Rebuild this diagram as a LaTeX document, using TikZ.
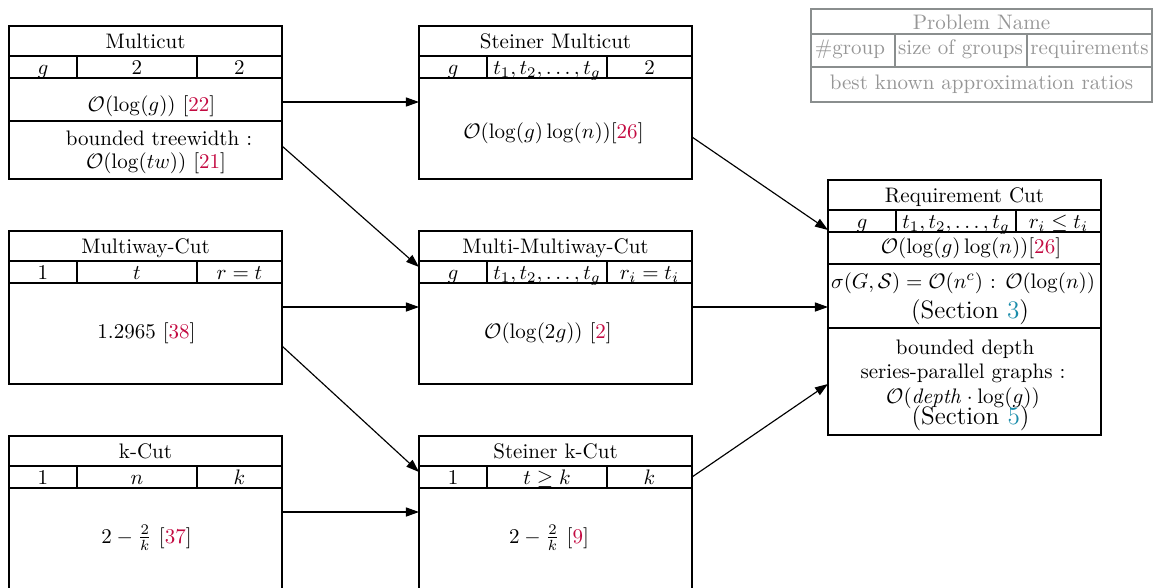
\documentclass[tikz,border=0pt]{standalone}
\usetikzlibrary{arrows.meta,calc}
\definecolor{citered}{RGB}{195,10,65}
\definecolor{secblue}{RGB}{25,140,170}
\definecolor{legline}{RGB}{138,142,142}
\definecolor{legtext}{RGB}{150,150,150}
\newcommand\cit[1]{[\textcolor{citered}{#1}]}
\newcommand\sref[1]{\textcolor{secblue}{#1}}
% #1 name, #2 x, #3 y, #4 height, #5 title, #6 #7 #8 small row
\newcommand\probbox[8]{%
  \node[box, minimum height=#4*0.476pt] (#1) at (#2,#3) {};
  \draw[thickline] (#2,#3+30) -- (#2+273,#3+30);
  \draw[thickline] (#2,#3+52) -- (#2+273,#3+52);
  \draw[thickline] (#2+68,#3+30) -- (#2+68,#3+52);
  \draw[thickline] (#2+188,#3+30) -- (#2+188,#3+52);
  \node[txt] (#1-t) at (#2+136.5,#3+22) {#5};
  \node[txt] (#1-a) at (#2+34,#3+48) {#6};
  \node[txt] (#1-b) at (#2+128,#3+48) {#7};
  \node[txt] (#1-c) at (#2+230.5,#3+48) {#8};
}
\begin{document}
\begin{tikzpicture}[x=0.476pt,y=-0.476pt,
  box/.style={draw, line width=1.2pt, minimum width=273*0.476pt, inner sep=0pt, outer sep=0pt, anchor=north west},
  txt/.style={inner sep=0pt, anchor=base},
  thickline/.style={line width=1.2pt},
  thinline/.style={line width=0.5pt},
  conn/.style={-{Triangle[length=6.2pt,width=4.3pt]}, line width=0.55pt},
  legbox/.style={draw=legline, line width=1pt, minimum width=341*0.476pt, minimum height=93*0.476pt, inner sep=0pt, outer sep=0pt, anchor=north west},
  legtxt/.style={inner sep=0pt, anchor=base, text=legtext},
]
\useasboundingbox (0,0) rectangle (1154,587);

% legend
\node[legbox] (leg) at (811,9) {};
\draw[legline, line width=1pt] (811,34) -- (1152,34);
\draw[legline, line width=1pt] (811,67) -- (1152,67);
\draw[legline, line width=1pt] (895,34) -- (895,67);
\draw[legline, line width=1pt] (1027,34) -- (1027,67);
\node[legtxt] (leg-t) at (981.5,29) {Problem Name};
\node[legtxt] (leg-a) at (850,54) {\#group};
\node[legtxt] (leg-b) at (960.5,54) {size of groups};
\node[legtxt] (leg-c) at (1089.5,54) {requirements};
\node[legtxt] (leg-d) at (981.5,89) {best known approximation ratios};

% boxes
\probbox{mc}{9}{26}{153}{Multicut}{$g$}{$2$}{$2$}
\draw[thinline] (9,121) -- (282,121);
\node[txt] (mc-r1) at (151.5,111.5) {$\mathcal{O}(\log(g))$ \cit{22}};
\node[txt] (mc-r2) at (159,145) {bounded treewidth :};
\node[txt] (mc-r3) at (156,168) {$\mathcal{O}(\log(tw))$ \cit{21}};

\probbox{smc}{419}{26}{153}{Steiner Multicut}{$g$}{$t_1,t_2,\ldots,t_g$}{$2$}
\node[txt] (smc-r1) at (553.5,138) {$\mathcal{O}(\log(g)\log(n))$\cit{26}};

\probbox{mw}{9}{231}{153}{Multiway-Cut}{$1$}{$t$}{$r=t$}
\node[txt] (mw-r1) at (146.5,338) {$1.2965$ \cit{38}};

\probbox{mmc}{419}{231}{153}{Multi-Multiway-Cut}{$g$}{$t_1,t_2,\ldots,t_g$}{$r_i=t_i$}
\node[txt] (mmc-r1) at (548,338.5) {$\mathcal{O}(\log(2g))$ \cit{2}};

\probbox{kc}{9}{436}{160}{k-Cut}{$1$}{$n$}{$k$}
\node[txt] (kc-r1) at (146.5,543) {$2-\frac{2}{k}$ \cit{37}};

\probbox{skc}{419}{436}{160}{Steiner k-Cut}{$1$}{$t\geq k$}{$k$}
\node[txt] (skc-r1) at (549,543) {$2-\frac{2}{k}$ \cit{9}};

\probbox{rc}{828}{180}{255}{Requirement Cut}{$g$}{$t_1,t_2,\ldots,t_g$}{$r_i\leq t_i$}
\draw[thinline] (828,264) -- (1101,264);
\draw[thinline] (828,328) -- (1101,328);
\node[txt] (rc-r1) at (971,253) {$\mathcal{O}(\log(g)\log(n))$\cit{26}};
\node[txt] (rc-r2) at (963,288) {$\sigma(G,\mathcal{S})=\mathcal{O}(n^c)$ : $\mathcal{O}(\log(n))$};
\node[txt] (rc-r3) at (970,318.5) {\large (Section \sref{3})};
\node[txt] (rc-r4) at (965,354) {bounded depth};
\node[txt] (rc-r5) at (963,378) {series-parallel graphs :};
\node[txt] (rc-r6) at (963,403) {$\mathcal{O}(\mathit{depth}\cdot\log(g))$};
\node[txt] (rc-r7) at (970.5,424) {\large (Section \sref{5})};

% connectors
\draw[conn] ($(mc.north east)+(0,76)$) -- ($(smc.north west)+(0,76)$);
\draw[conn] ($(mc.north east)+(0,120)$) -- ($(mmc.north west)+(0,36)$);
\draw[conn] ($(mw.north east)+(0,76)$) -- ($(mmc.north west)+(0,76)$);
\draw[conn] ($(mw.north east)+(0,115)$) -- ($(skc.north west)+(0,36)$);
\draw[conn] ($(kc.north east)+(0,76)$) -- ($(skc.north west)+(0,76)$);
\draw[conn] ($(smc.north east)+(0,111)$) -- ($(rc.north west)+(0,50)$);
\draw[conn] ($(mmc.north east)+(0,76)$) -- ($(rc.north west)+(0,127)$);
\draw[conn] ($(skc.north east)+(0,41)$) -- ($(rc.north west)+(0,204)$);
\end{tikzpicture}
\end{document}
